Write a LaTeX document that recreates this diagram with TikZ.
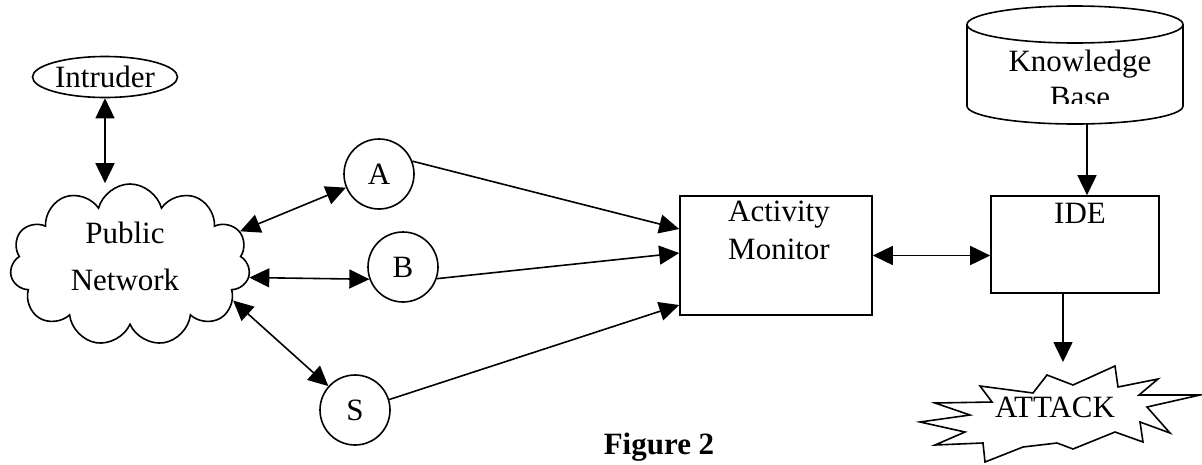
\documentclass[tikz,border=0pt]{standalone}
\usepackage{fontspec}
\setmainfont{Liberation Serif}
\usetikzlibrary{arrows.meta, shapes.geometric, shapes.symbols}

\tikzset{
  lbl/.style={font=\fontsize{31}{38}\selectfont, inner sep=0pt, align=center},
  box/.style={draw, inner sep=0pt},
  stn/.style={draw, circle, minimum size=70pt, inner sep=0pt, lbl},
  link/.style={-{Triangle[length=20pt, width=19pt]}},
  duplex/.style={{Triangle[length=20pt, width=19pt]}-{Triangle[length=20pt, width=19pt]}},
}

\begin{document}
\begin{tikzpicture}[x=1pt, y=-1pt, line width=1.6pt]
\useasboundingbox (0,0) rectangle (1202,464);
% intruder and public network
\node[box, ellipse, minimum width=145pt, minimum height=41pt, lbl] (intr) at (105,77) {Intruder};
\node[draw, cloud, cloud puffs=11, aspect=1.5, minimum width=240pt, minimum height=162pt] (net) at (130,265) {};
\node[lbl] (nettxt) at (125,256) {Public\\[9pt]Network};
% stations
\node[stn] (A) at (379,174) {A};
\node[stn] (B) at (403,267) {B};
\node[stn] (S) at (355,410) {S};
% monitor and engine
\node[box, minimum width=192pt, minimum height=119pt] (am) at (776,255.5) {};
\node[lbl, anchor=north] (amtxt) at (779,200) {Activity\\Monitor};
\node[box, minimum width=168pt, minimum height=97pt] (ide) at (1075,244.5) {};
\node[lbl, anchor=north] (idetxt) at (1080,202) {IDE};
% knowledge base
\draw (967,24.5) -- (967,106) arc[start angle=180, end angle=0, x radius=108, y radius=18] -- (1183,24.5);
\draw (1075,24.5) ellipse[x radius=108, y radius=18.5];
\begin{scope}
  \clip (960,30) rectangle (1190,103);
  \node[lbl, anchor=north] (kbtxt) at (1080,49) {Knowledge\\[-2pt]Base};
\end{scope}
\coordinate (kbbot) at (1087,124);
% attack
\draw (980,386) -- (1033,393) -- (1047,375) -- (1073,385) -- (1115,366) -- (1118,387)
  -- (1158,379) -- (1139,395) -- (1200,395) -- (1147,407) -- (1170,433) -- (1140,422)
  -- (1143,442) -- (1115,432) -- (1073,449) -- (1057,443) -- (1023,447) -- (985,462)
  -- (983,443) -- (935,445) -- (965,432) -- (920,422) -- (970,415) -- (935,403)
  -- (992,402) -- cycle;
\node[lbl] (attack) at (1055,407) {ATTACK};
\coordinate (hit) at (1063,362);
% caption
\node[lbl, font=\bfseries\fontsize{31}{38}\selectfont, anchor=base] (fig) at (659,454) {Figure 2};

% connectors
\draw[duplex] (intr.south) -- (intr.south |- net.north);
\draw[duplex] (net.17) -- (A);
\draw[duplex] (net.-6) -- (B.200);
\draw[duplex] (net.-19) -- (S);
\draw[link] (A.21) -- ([yshift=26.5pt]am.west);
\draw[link] (B.-19) -- ([yshift=2.5pt]am.west);
\draw[link] (S.17) -- ([yshift=-49.5pt]am.west);
\draw[duplex] (am.east) -- (am.east -| ide.west);
\draw[link] (kbbot) -- (kbbot |- ide.north);
\draw[link] (hit |- ide.south) -- (hit);
\end{tikzpicture}
\end{document}
